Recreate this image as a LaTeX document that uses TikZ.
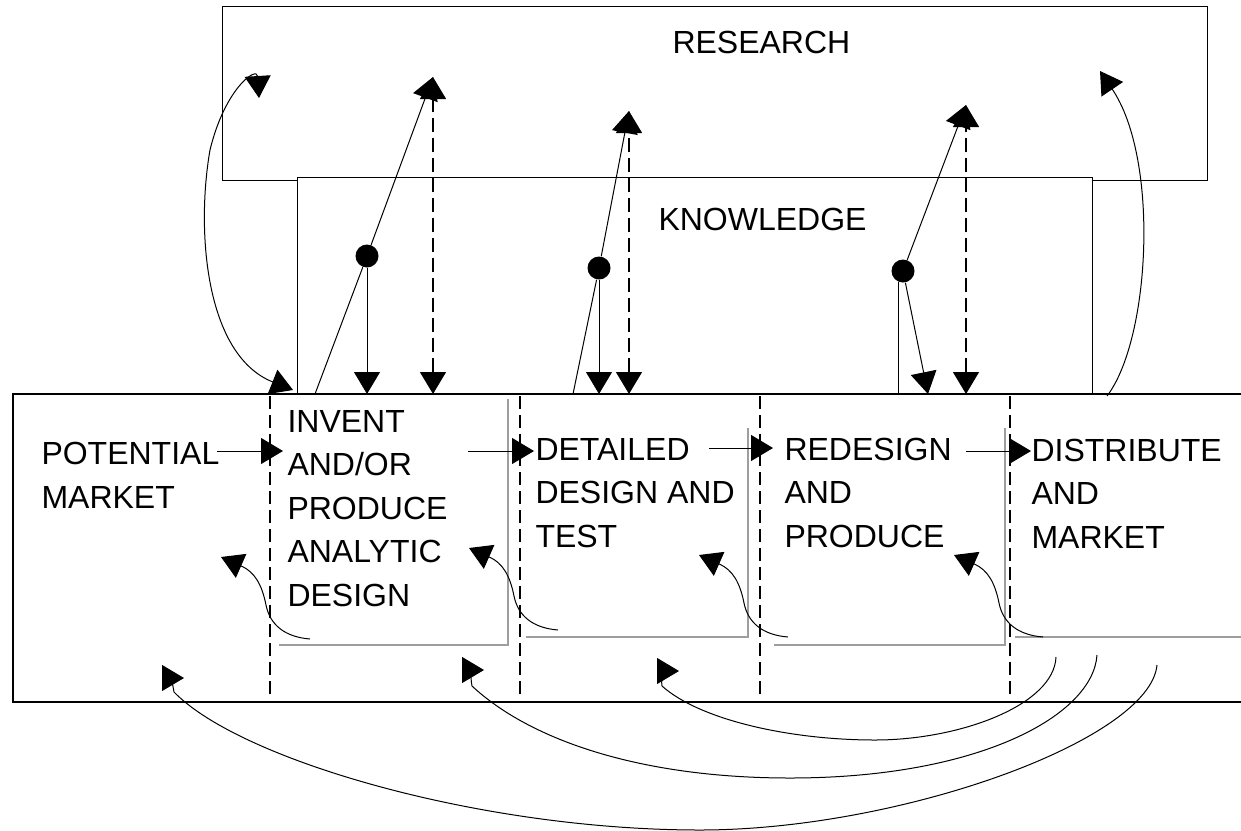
\documentclass[tikz,border=0pt]{standalone}
\usepackage{fontspec}
\setmainfont{Liberation Sans}
\usetikzlibrary{arrows.meta}
\tikzset{Tri/.tip={Triangle[length=22pt,width=26pt]}}

\begin{document}
\begin{tikzpicture}[x=1pt, y=-1pt, line width=1pt,
  fwd/.style={-Tri}, twoway/.style={Tri-Tri},
  lbl/.style={anchor=base west, inner sep=0pt, align=left, font=\fontsize{32}{43.5}\selectfont},
  stagebox/.style={draw=black!38, line width=2pt},
  sep/.style={line width=2pt, dash pattern=on 13pt off 6pt},
  link/.style={line width=1.4pt, dash pattern=on 14pt off 6pt},
  dot/.style={circle, fill, inner sep=0pt, minimum size=23pt}]
\useasboundingbox (0,0) rectangle (1241,830);

\draw (297,180) -- (222,180) -- (222,6) -- (1207,6) -- (1207,180) -- (1092,180);
\draw (297,394) -- (297,177) -- (1092,177) -- (1092,394);
\draw[line width=1.5pt] (1250,394) -- (13,394) -- (13,702) -- (1250,702);

\foreach \x in {270,520,760,1010}
  \draw[sep] (\x,396) -- (\x,698);

\draw[stagebox] (508,399) |- (279,645);
\draw[stagebox] (748,428) |- (526,637);
\draw[stagebox] (1005,428) |- (774,645);
\draw[stagebox] (1015,637) -- (1250,637);

\node[lbl] (res) at (672,53) {RESEARCH};
\node[lbl] (kno) at (658,230) {KNOWLEDGE};
\node[lbl] (mkt) at (41,508) {POTENTIAL\\MARKET};
\node[lbl] (inv) at (287,606) {INVENT\\AND/OR\\PRODUCE\\ANALYTIC\\DESIGN};
\node[lbl] (det) at (535,547) {DETAILED\\DESIGN AND\\TEST};
\node[lbl] (red) at (784,547) {REDESIGN\\AND\\PRODUCE};
\node[lbl] (dis) at (1031,548) {DISTRIBUTE\\AND\\MARKET};

\foreach \n/\x/\y in {a0/217/451, a1/283/451, b0/468/451, b1/534/451,
  c0/709/448, c1/773/448, d0/966/451, d1/1031/451}
  \coordinate (\n) at (\x,\y);
\foreach \p/\q in {a0/a1, b0/b1, c0/c1, d0/d1}
  \draw[fwd] (\p) -- (\q);

\node[dot] (k1) at (367,256) {};
\node[dot] (k2) at (599,268) {};
\node[dot] (k3) at (903,271) {};
\foreach \n/\x/\y in {s1/315/394, r1/433/77, s2/573/394, r2/629/111, r3/966/105}
  \coordinate (\n) at (\x,\y);

\draw (s1) -- (k1);
\draw[fwd] (k1) -- (r1);
\draw[fwd] (k1) -- (k1 |- s1);
\draw[link, twoway] (r1 |- s1) -- (r1);

\draw (s2) -- (k2);
\draw[fwd] (k2) -- (r2);
\draw[fwd] (k2) -- (k2 |- s2);
\draw[link, twoway] (r2 |- s2) -- (r2);

\draw[fwd] (k3) -- (r3);
\draw[fwd] (k3) -- (928,394);
\draw (k3.250) -- (k3.250 |- s1);
\draw[link, twoway] (r3 |- s1) -- (r3);

\draw[twoway] (259,98) .. controls (257,66) and (225,88) .. (210,150)
  .. controls (196,230) and (205,355) .. (293,390);
\draw[fwd] (1107,396) .. controls (1150,340) and (1160,160) .. (1100,71);

\foreach \dx/\dy in {0/0, 248/-9, 478/-2, 733/-2}
  \draw[fwd, shift={(\dx,\dy)}] (310,639) .. controls (285,637) and (270,625) .. (266,605)
    .. controls (262,585) and (255,572) .. (221,557);

\draw[fwd] (1056,657) .. controls (1054,705) and (960,740) .. (875,740)
  .. controls (790,740) and (700,720) .. (662,686) .. controls (660,676) and (668,671) .. (679,671);
\draw[fwd] (1097,655) .. controls (1093,715) and (980,778) .. (790,778)
  .. controls (640,778) and (530,740) .. (472,686) .. controls (470,676) and (473,670) .. (484,670);
\draw[fwd] (1157,665) .. controls (1150,740) and (900,830) .. (700,830)
  .. controls (480,830) and (240,760) .. (174,692) .. controls (172,682) and (173,678) .. (184,678);
\end{tikzpicture}
\end{document}
